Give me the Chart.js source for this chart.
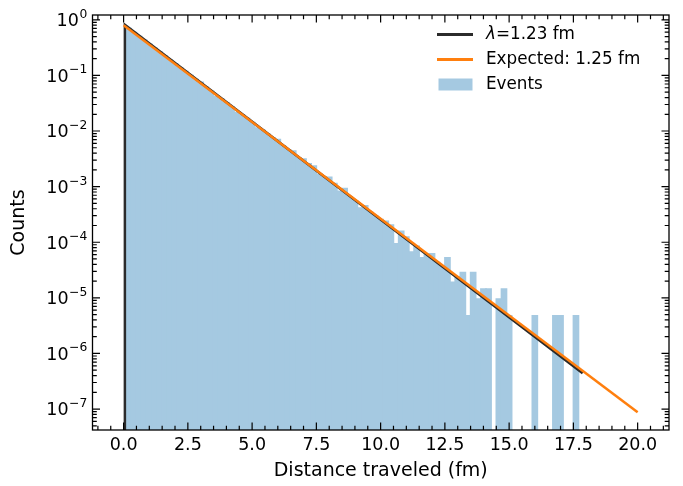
<!DOCTYPE html>
<html>
<head>
<meta charset="utf-8">
<script src="https://cdn.jsdelivr.net/npm/chart.js@4.4.0/dist/chart.umd.min.js"></script>
<style>
  html, body { margin: 0; padding: 0; background: #fff; }
</style>
</head>
<body>
<canvas id="distChart" width="683" height="486"></canvas>
<script>
// histogram bin centres (fm), bin width 0.2
const binCenters = [
  0.2, 0.4, 0.6, 0.8, 1.0, 1.2, 1.4, 1.6, 1.8, 2.0,
  2.2, 2.4, 2.6, 2.8, 3.0, 3.2, 3.4, 3.6, 3.8, 4.0,
  4.2, 4.4, 4.6, 4.8, 5.0, 5.2, 5.4, 5.6, 5.8, 6.0,
  6.2, 6.4, 6.6, 6.8, 7.0, 7.2, 7.4, 7.6, 7.8, 8.0,
  8.2, 8.4, 8.6, 8.8, 9.0, 9.2, 9.4, 9.6, 9.8, 10.0,
  10.2, 10.4, 10.6, 10.8, 11.0, 11.2, 11.4, 11.6, 11.8, 12.0,
  12.2, 12.4, 12.6, 12.8, 13.0, 13.2, 13.4, 13.6, 13.8, 14.0,
  14.2, 14.4, 14.6, 14.8, 15.0, 15.2, 15.4, 15.6, 15.8, 16.0,
  16.2, 16.4, 16.6, 16.8, 17.0, 17.2, 17.4, 17.6
];
// normalised counts per bin (null = empty bin)
const eventDensity = [
  0.717, 0.610, 0.519, 0.441, 0.375, 0.319, 0.2715, 0.231, 0.196, 0.167,
  0.142, 0.121, 0.1027, 0.0874, 0.0778, 0.0632, 0.0537, 0.0427, 0.0389, 0.0331,
  0.0281, 0.0223, 0.0203, 0.0173, 0.0147, 0.0117, 0.0106, 0.00905, 0.00769, 0.00726,
  0.00556, 0.00473, 0.00452, 0.00342, 0.00325, 0.00265, 0.00242, 0.00171, 0.00152, 0.00152,
  0.00118, 0.000855, 0.000954, 0.000678, 0.000576, 0.000427, 0.000468, 0.000355, 0.000302, 0.000265,
  0.000245, 0.000210, 0.0000965, 0.000162, 0.000128, 0.0000690, 0.0000870, 0.0000540, 0.0000635, 0.0000640,
  0.0000444, 0.0000369, 0.0000542, 0.0000197, 0.0000247, 0.0000296, 0.00000493, 0.0000296, 0.00000986, 0.0000148,
  0.0000148, null, 0.00000986, 0.0000148, 0.00000493, null, null, null, null, 0.00000493,
  null, null, null, 0.00000493, 0.00000493, null, null, 0.00000493
];
// fitted curve and expected curve
const fitX = [0.05, 0.05, 17.86];
const fitY = [1e-9, 0.81, 4.4e-7];
const expectedX = [0, 20];
const expectedY = [0.8, 8.8e-8];

const xTicks = [0, 2.5, 5, 7.5, 10, 12.5, 15, 17.5, 20];
const xTickLabels = ['0.0', '2.5', '5.0', '7.5', '10.0', '12.5', '15.0', '17.5', '20.0'];
const yTicks = [1e-7, 1e-6, 1e-5, 1e-4, 1e-3, 1e-2, 1e-1, 1];
const yTickBase = '10';
const yTickExponents = ['−7', '−6', '−5', '−4', '−3', '−2', '−1', '0'];

Chart.defaults.font.family = "'DejaVu Sans'";
Chart.defaults.color = '#000';

// spines + inward ticks on all four sides, like matplotlib
const frameTicks = {
  id: 'frameTicks',
  afterDatasetsDraw(chart) {
    const { ctx, chartArea: a, scales: { x, y } } = chart;
    ctx.save();
    ctx.strokeStyle = '#000';
    ctx.lineWidth = 1.2;
    ctx.beginPath();
    const xt = (v, len) => {
      const px = x.getPixelForValue(v);
      if (px < a.left || px > a.right) return;
      ctx.moveTo(px, a.bottom); ctx.lineTo(px, a.bottom - len);
      ctx.moveTo(px, a.top); ctx.lineTo(px, a.top + len);
    };
    const yt = (v, len) => {
      const py = y.getPixelForValue(v);
      if (py < a.top || py > a.bottom) return;
      ctx.moveTo(a.left, py); ctx.lineTo(a.left + len, py);
      ctx.moveTo(a.right, py); ctx.lineTo(a.right - len, py);
    };
    xTicks.forEach(v => xt(v, 7.5));
    for (let v = -1; v <= 21; v += 0.5) {
      if (Math.abs(v / 2.5 - Math.round(v / 2.5)) > 1e-6) xt(v, 4.3);
    }
    yTicks.forEach(v => yt(v, 7.5));
    for (let e = -8; e <= 0; e++) {
      for (let m = 2; m <= 9; m++) {
        const v = m * Math.pow(10, e);
        if (v >= y.min && v <= y.max) yt(v, 4.3);
      }
    }
    ctx.stroke();
    ctx.lineWidth = 1.3;
    ctx.strokeRect(a.left, a.top, a.right - a.left, a.bottom - a.top);

    // y tick labels as 10 with a raised exponent
    ctx.fillStyle = '#000';
    ctx.textBaseline = 'alphabetic';
    ctx.textAlign = 'left';
    const right = a.left - 5.3;
    yTicks.forEach((v, i) => {
      const py = y.getPixelForValue(v);
      ctx.font = "12.3px 'DejaVu Sans'";
      const we = ctx.measureText(yTickExponents[i]).width;
      ctx.fillText(yTickExponents[i], right - we, py - 2);
      ctx.font = "17.5px 'DejaVu Sans'";
      const wb = ctx.measureText(yTickBase).width;
      ctx.fillText(yTickBase, right - we - wb - 0.5, py + 6.4);
    });
    ctx.restore();
  }
};

// legend in the upper right corner of the axes
const legendBox = {
  id: 'legendBox',
  afterDatasetsDraw(chart) {
    const { ctx, chartArea: a } = chart;
    const hx = a.right - 232;
    const tx = a.right - 183;
    ctx.save();
    ctx.textBaseline = 'middle';
    chart.data.datasets.forEach((ds, i) => {
      const yc = a.top + 19.5 + i * 25;
      if (ds.type === 'line') {
        ctx.strokeStyle = ds.borderColor;
        ctx.lineWidth = 2.8;
        ctx.beginPath();
        ctx.moveTo(hx, yc); ctx.lineTo(hx + 36, yc);
        ctx.stroke();
      } else {
        ctx.fillStyle = ds.backgroundColor;
        ctx.fillRect(hx + 1.5, yc - 6, 34, 12);
      }
      ctx.fillStyle = '#000';
      let label = ds.label;
      let x0 = tx;
      if (label.startsWith('λ')) {
        ctx.font = "italic 16.8px 'DejaVu Sans'";
        ctx.fillText('λ', x0, yc);
        x0 += ctx.measureText('λ').width;
        label = label.slice(1);
      }
      ctx.font = "16.8px 'DejaVu Sans'";
      ctx.fillText(label, x0, yc);
    });
    ctx.restore();
  }
};

new Chart(document.getElementById('distChart'), {
  type: 'bar',
  data: {
    datasets: [
      {
        type: 'line',
        label: 'λ=1.23 fm',
        data: fitX.map((x, i) => ({ x, y: fitY[i] })),
        borderColor: '#2b2b2b',
        borderWidth: 2.5,
        pointRadius: 0,
        fill: false,
        order: 1
      },
      {
        type: 'line',
        label: 'Expected: 1.25 fm',
        data: expectedX.map((x, i) => ({ x, y: expectedY[i] })),
        borderColor: '#ff7f0e',
        borderWidth: 2.5,
        pointRadius: 0,
        fill: false,
        order: 0
      },
      {
        type: 'bar',
        label: 'Events',
        data: binCenters.map((x, i) => ({ x, y: eventDensity[i] })),
        backgroundColor: 'rgb(165,201,225)',
        borderWidth: 0,
        categoryPercentage: 1,
        barPercentage: 1.3,
        order: 2
      }
    ]
  },
  options: {
    responsive: false,
    animation: false,
    events: [],
    layout: { padding: { top: 15, right: 14, left: 0, bottom: 0 } },
    plugins: { legend: { display: false }, tooltip: { enabled: false } },
    scales: {
      x: {
        type: 'linear',
        min: -1.21,
        max: 21.22,
        offset: false,
        grid: { display: false, drawTicks: false, offset: false },
        border: { display: false },
        afterBuildTicks: s => { s.ticks = xTicks.map(v => ({ value: v })); },
        afterFit: s => { s.height = 56; },
        ticks: {
          autoSkip: false, maxRotation: 0, padding: 5,
          font: { size: 17.5 },
          callback: (v, i) => xTickLabels[i]
        },
        title: {
          display: true, text: 'Distance traveled (fm)',
          font: { size: 19 }, padding: { top: 0, bottom: 4 }
        }
      },
      y: {
        type: 'logarithmic',
        min: 4.2e-8,
        max: 1.22,
        beginAtZero: false,
        grid: { display: false, drawTicks: false },
        border: { display: false },
        afterBuildTicks: s => { s.ticks = yTicks.map(v => ({ value: v })); },
        afterFit: s => { s.width = 92.5; },
        ticks: { display: false },
        title: {
          display: true, text: 'Counts',
          font: { size: 19 }, padding: { top: 8, bottom: 0 }
        }
      }
    }
  },
  plugins: [frameTicks, legendBox]
});
</script>
</body>
</html>
